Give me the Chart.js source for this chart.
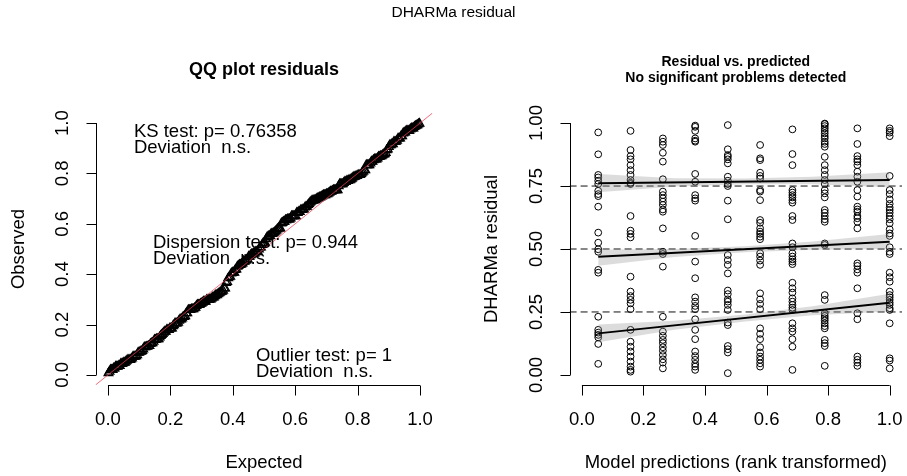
<!DOCTYPE html>
<html>
<head>
<meta charset="utf-8">
<script src="https://cdn.jsdelivr.net/npm/chart.js@4.4.1/dist/chart.umd.min.js"></script>
<style>
  body { margin: 0; background: #fff; width: 907px; height: 476px; overflow: hidden; position: relative;
         font-family: "Liberation Sans", Arial, Helvetica, sans-serif; }
  #mainTitle { position: absolute; left: 0; top: 3px; width: 907px; text-align: center; font-size: 15.5px; color: #000; }
  #qq { position: absolute; left: 0; top: 0; }
  #rp { position: absolute; left: 453px; top: 0; }
</style>
</head>
<body>
<canvas id="qq" width="453" height="476"></canvas>
<canvas id="rp" width="454" height="476"></canvas>
<div id="mainTitle">DHARMa residual</div>
<script>
// scaled residuals, one list per rank-transformed prediction group
var predRank = [0.053, 0.158, 0.263, 0.368, 0.474, 0.579, 0.684, 0.789, 0.895, 1.0];
var residCol1 = [0.963, 0.876, 0.794, 0.784, 0.771, 0.758, 0.731, 0.718, 0.710, 0.668, 0.565, 0.525, 0.499, 0.489,
                 0.417, 0.406, 0.231, 0.179, 0.168, 0.159, 0.149, 0.123, 0.044];
var residCol2 = [0.969, 0.893, 0.869, 0.856, 0.833, 0.813, 0.794, 0.774, 0.763, 0.758, 0.631, 0.573, 0.560, 0.546,
                 0.390, 0.331, 0.313, 0.298, 0.284, 0.261, 0.179, 0.132, 0.112, 0.093, 0.073, 0.053, 0.033, 0.020, 0.013];
var residCol3 = [0.939, 0.926, 0.913, 0.882, 0.847, 0.777, 0.728, 0.714, 0.701, 0.688, 0.675, 0.657, 0.648, 0.582,
                 0.489, 0.480, 0.430, 0.231, 0.172, 0.155, 0.139, 0.126, 0.110, 0.096, 0.079, 0.062, 0.049, 0.026];
var residCol4 = [0.990, 0.985, 0.969, 0.939, 0.930, 0.926, 0.798, 0.767, 0.714, 0.701, 0.692, 0.552, 0.450, 0.384,
                 0.308, 0.291, 0.274, 0.261, 0.221, 0.179, 0.142, 0.093, 0.075, 0.060, 0.044, 0.033, 0.020];
var residCol5 = [0.992, 0.896, 0.873, 0.866, 0.856, 0.840, 0.787, 0.771, 0.758, 0.750, 0.692, 0.618, 0.476, 0.456,
                 0.437, 0.403, 0.335, 0.321, 0.300, 0.291, 0.278, 0.258, 0.208, 0.198, 0.115, 0.102, 0.089, 0.007];
var residCol6 = [0.913, 0.860, 0.853, 0.803, 0.790, 0.780, 0.734, 0.728, 0.694, 0.615, 0.604, 0.582, 0.569, 0.560,
                 0.549, 0.539, 0.483, 0.470, 0.454, 0.437, 0.324, 0.300, 0.282, 0.261, 0.185, 0.163, 0.142, 0.110,
                 0.089, 0.073, 0.060, 0.046, 0.033];
var residCol7 = [0.975, 0.877, 0.833, 0.734, 0.724, 0.714, 0.705, 0.694, 0.684, 0.631, 0.615, 0.522, 0.507, 0.483,
                 0.470, 0.459, 0.450, 0.440, 0.366, 0.344, 0.327, 0.304, 0.291, 0.278, 0.267, 0.258, 0.205, 0.185,
                 0.172, 0.142, 0.112, 0.020];
var residCol8 = [0.998, 0.996, 0.988, 0.979, 0.969, 0.959, 0.948, 0.939, 0.926, 0.917, 0.906, 0.866, 0.833, 0.813,
                 0.794, 0.774, 0.758, 0.734, 0.721, 0.705, 0.655, 0.644, 0.631, 0.618, 0.608, 0.522, 0.516, 0.317,
                 0.298, 0.245, 0.234, 0.225, 0.216, 0.205, 0.194, 0.185, 0.139, 0.126, 0.115, 0.036];
var residCol9 = [0.979, 0.917, 0.869, 0.856, 0.847, 0.833, 0.807, 0.787, 0.767, 0.734, 0.708, 0.668, 0.657, 0.648,
                 0.631, 0.622, 0.608, 0.582, 0.443, 0.433, 0.419, 0.406, 0.344, 0.245, 0.221, 0.073, 0.060, 0.049, 0.036];
var residCol10 = [0.979, 0.969, 0.962, 0.948, 0.790, 0.734, 0.718, 0.697, 0.679, 0.665, 0.655, 0.644, 0.631, 0.618,
                  0.602, 0.578, 0.562, 0.552, 0.507, 0.489, 0.480, 0.406, 0.388, 0.370, 0.331, 0.317, 0.308, 0.298,
                  0.287, 0.278, 0.265, 0.258, 0.205, 0.066, 0.057, 0.026];
var residCols = [residCol1, residCol2, residCol3, residCol4, residCol5, residCol6, residCol7, residCol8, residCol9, residCol10];

// quantile regression fits (start / end value) and their confidence bands
var quantLevels = [0.25, 0.5, 0.75];
var quantStart = [0.165, 0.469, 0.761];
var quantEnd = [0.287, 0.529, 0.774];
var bandX = [0.053, 0.3, 0.53, 0.75, 1.0];
var band25Upper = [0.200, 0.215, 0.240, 0.273, 0.322];
var band25Lower = [0.130, 0.179, 0.212, 0.237, 0.252];
var band50Upper = [0.497, 0.500, 0.511, 0.530, 0.560];
var band50Lower = [0.433, 0.468, 0.487, 0.497, 0.500];
var band75Upper = [0.798, 0.781, 0.780, 0.787, 0.805];
var band75Lower = [0.725, 0.748, 0.757, 0.757, 0.745];

var xTicks = [0, 0.2, 0.4, 0.6, 0.8, 1.0];
var qqYTicks = [0, 0.2, 0.4, 0.6, 0.8, 1.0];
var resYTicks = [0, 0.25, 0.5, 0.75, 1.0];

var ksText = ["KS test: p= 0.76358", "Deviation  n.s."];
var dispText = ["Dispersion test: p= 0.944", "Deviation  n.s."];
var outText = ["Outlier test: p= 1", "Deviation  n.s."];

var FONT = '"Liberation Sans", Arial, Helvetica, sans-serif';

// R style axes: detached lines, outward ticks, labels parallel to axis
var rAxes = {
  id: 'rAxes',
  afterDraw: function(chart, args, o) {
    var ctx = chart.ctx, xs = chart.scales.x, ys = chart.scales.y, a = chart.chartArea;
    ctx.save();
    ctx.strokeStyle = '#000';
    ctx.fillStyle = '#000';
    ctx.lineWidth = 1;
    ctx.font = '18.5px ' + FONT;
    ctx.textAlign = 'center';
    ctx.textBaseline = 'middle';

    var yb = Math.round(a.bottom) + 0.5;
    ctx.beginPath();
    ctx.moveTo(xs.getPixelForValue(o.xTicks[0]), yb);
    ctx.lineTo(xs.getPixelForValue(o.xTicks[o.xTicks.length - 1]), yb);
    o.xTicks.forEach(function(v) {
      var px = Math.round(xs.getPixelForValue(v)) + 0.5;
      ctx.moveTo(px, yb);
      ctx.lineTo(px, yb + 10);
    });
    ctx.stroke();
    o.xTicks.forEach(function(v) {
      ctx.fillText(v.toFixed(1), xs.getPixelForValue(v), a.bottom + 35);
    });
    ctx.fillText(o.xTitle, (a.left + a.right) / 2, a.bottom + 78);

    var xl = Math.round(a.left) + 0.5;
    ctx.beginPath();
    ctx.moveTo(xl, ys.getPixelForValue(o.yTicks[0]));
    ctx.lineTo(xl, ys.getPixelForValue(o.yTicks[o.yTicks.length - 1]));
    o.yTicks.forEach(function(v) {
      var py = Math.round(ys.getPixelForValue(v)) + 0.5;
      ctx.moveTo(xl, py);
      ctx.lineTo(xl - 10, py);
    });
    ctx.stroke();
    o.yTicks.forEach(function(v) {
      ctx.save();
      ctx.translate(a.left - 33, ys.getPixelForValue(v));
      ctx.rotate(-Math.PI / 2);
      ctx.fillText(v.toFixed(o.yDigits), 0, 0);
      ctx.restore();
    });
    ctx.save();
    ctx.translate(a.left - o.yTitleOffset, (a.top + a.bottom) / 2);
    ctx.rotate(-Math.PI / 2);
    ctx.fillText(o.yTitle, 0, 0);
    ctx.restore();

    ctx.font = 'bold ' + o.titleSize + 'px ' + FONT;
    o.title.forEach(function(t, i) {
      ctx.fillText(t, (a.left + a.right) / 2, o.titleY + i * o.titleGap);
    });

    ctx.font = '18.5px ' + FONT;
    ctx.textAlign = 'left';
    (o.notes || []).forEach(function(n) {
      var px = xs.getPixelForValue(n.x), py = ys.getPixelForValue(n.y);
      n.lines.forEach(function(t, i) { ctx.fillText(t, px, py + i * 15.5); });
    });
    ctx.restore();
  }
};

function baseScales() {
  return {
    x: { type: 'linear', min: -0.04, max: 1.04, display: false },
    y: { type: 'linear', min: -0.04, max: 1.04, display: false }
  };
}

// QQ plot: sorted residuals against uniform quantiles
var allResid = [];
residCols.forEach(function(c) { allResid = allResid.concat(c); });
allResid.sort(function(a, b) { return a - b; });
var qqData = allResid.map(function(v, i) { return { x: (i + 0.5) / allResid.length, y: v }; });

new Chart(document.getElementById('qq'), {
  type: 'scatter',
  data: {
    datasets: [
      { data: [{ x: -0.04, y: -0.04 }, { x: 1.04, y: 1.04 }], showLine: true, borderColor: 'rgba(235,60,80,0.75)',
        borderWidth: 1, pointRadius: 0, order: 0 },
      { data: qqData, pointStyle: 'triangle', pointRadius: 5, borderWidth: 1.3, borderColor: '#000',
        backgroundColor: 'rgba(0,0,0,0)', order: 1 }
    ]
  },
  options: {
    responsive: false, animation: false,
    layout: { padding: { left: 95.5, right: 20.5, top: 113, bottom: 91 } },
    scales: baseScales(),
    plugins: {
      legend: { display: false }, tooltip: { enabled: false },
      rAxes: {
        xTicks: xTicks, yTicks: qqYTicks, yDigits: 1, xTitle: 'Expected', yTitle: 'Observed', yTitleOffset: 77,
        title: ['QQ plot residuals'], titleSize: 18, titleY: 70, titleGap: 0,
        notes: [
          { x: 0.083, y: 0.964, lines: ksText },
          { x: 0.144, y: 0.524, lines: dispText },
          { x: 0.474, y: 0.075, lines: outText }
        ]
      }
    }
  },
  plugins: [rAxes]
});

// residual vs predicted
var rpSets = [];
residCols.forEach(function(c, i) {
  rpSets.push({
    data: c.map(function(v) { return { x: predRank[i], y: v }; }),
    pointStyle: 'circle', pointRadius: 3.4, borderWidth: 1, borderColor: '#000',
    backgroundColor: 'rgba(0,0,0,0)', order: 5
  });
});
quantLevels.forEach(function(q) {
  rpSets.push({ data: [{ x: -0.04, y: q }, { x: 1.04, y: q }], showLine: true, borderColor: '#111',
    borderWidth: 1, borderDash: [7, 4], pointRadius: 0, order: 4 });
});
[[band25Upper, band25Lower], [band50Upper, band50Lower], [band75Upper, band75Lower]].forEach(function(b) {
  rpSets.push({ data: bandX.map(function(x, j) { return { x: x, y: b[0][j] }; }), showLine: true,
    borderWidth: 0, borderColor: 'rgba(0,0,0,0)', pointRadius: 0, fill: false, order: 3 });
  rpSets.push({ data: bandX.map(function(x, j) { return { x: x, y: b[1][j] }; }), showLine: true,
    borderWidth: 0, borderColor: 'rgba(0,0,0,0)', pointRadius: 0, fill: '-1',
    backgroundColor: 'rgba(140,140,140,0.3)', order: 3 });
});
quantLevels.forEach(function(q, i) {
  rpSets.push({ data: [{ x: predRank[0], y: quantStart[i] }, { x: predRank[9], y: quantEnd[i] }], showLine: true,
    borderColor: '#000', borderWidth: 2, pointRadius: 0, order: 1 });
});

new Chart(document.getElementById('rp'), {
  type: 'scatter',
  data: { datasets: rpSets },
  options: {
    responsive: false, animation: false,
    layout: { padding: { left: 116.6, right: 3, top: 113, bottom: 91 } },
    scales: baseScales(),
    plugins: {
      legend: { display: false }, tooltip: { enabled: false },
      rAxes: {
        xTicks: xTicks, yTicks: resYTicks, yDigits: 2, xTitle: 'Model predictions (rank transformed)',
        yTitle: 'DHARMa residual', yTitleOffset: 78,
        title: ['Residual vs. predicted', 'No significant problems detected'], titleSize: 14, titleY: 62, titleGap: 16
      }
    }
  },
  plugins: [rAxes]
});
</script>
</body>
</html>
